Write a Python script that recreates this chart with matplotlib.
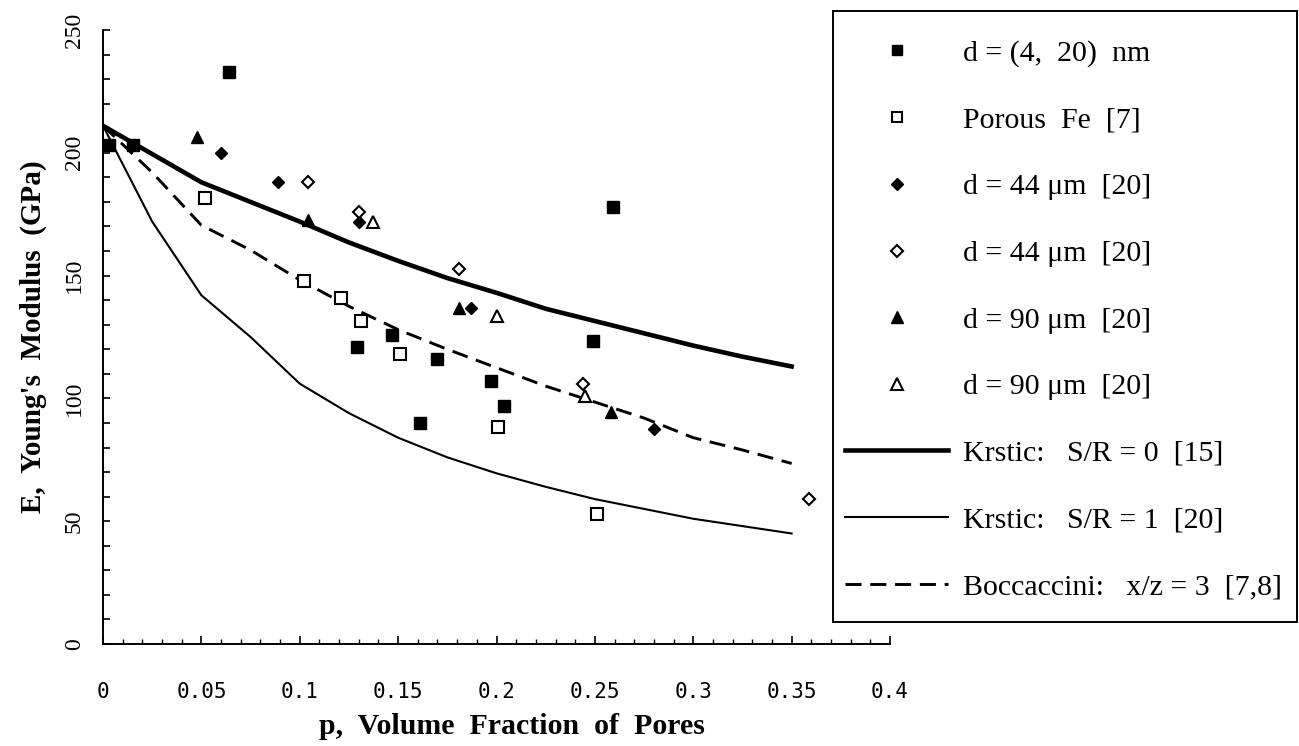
import matplotlib
matplotlib.use("Agg")
import matplotlib.pyplot as plt
from matplotlib.patches import Rectangle
from matplotlib.ticker import FixedLocator, MultipleLocator

plt.rcParams["font.family"] = ["Liberation Serif", "DejaVu Serif"]

# measured points: p (pore fraction), E (GPa)
nano_p = [0.003, 0.015, 0.064, 0.129, 0.147, 0.161, 0.170, 0.197, 0.204, 0.249, 0.259]
nano_E = [203, 203, 233, 121, 126, 90, 116, 107, 97, 123.5, 178]

fe_p = [0.052, 0.102, 0.121, 0.131, 0.151, 0.201, 0.251]
fe_E = [181.5, 148, 141, 131.5, 118, 88.5, 53]

d44_fill_p = [0.060, 0.089, 0.130, 0.187, 0.280]
d44_fill_E = [200, 188, 172, 137, 87.5]

d44_open_p = [0.104, 0.130, 0.181, 0.244, 0.359]
d44_open_E = [188, 176, 152.5, 106, 59]

d90_fill_p = [0.048, 0.104, 0.181, 0.258]
d90_fill_E = [206.5, 172.5, 137, 94.5]

d90_open_p = [0.137, 0.200, 0.245]
d90_open_E = [172, 133.5, 101]

# model curves
curve_p = [0, 0.025, 0.05, 0.075, 0.1, 0.125, 0.15, 0.175, 0.2, 0.225, 0.25, 0.275, 0.3, 0.325, 0.35]
krstic0_E = [211, 199.5, 188, 180, 172, 163.5, 156, 149, 143, 136.5, 131.5, 126.5, 121.5, 117, 113]
krstic1_E = [211, 172, 142, 125, 106, 94, 84, 76, 69.5, 64, 59, 55, 51, 48, 45]
bocc_E = [211, 192, 170.5, 160.4, 148.2, 137.5, 128, 120, 112.5, 105, 98.5, 92, 84, 79, 73.5]

xtick_vals = [0, 0.05, 0.1, 0.15, 0.2, 0.25, 0.3, 0.35, 0.4]
xtick_labels = ["0", "0.05", "0.1", "0.15", "0.2", "0.25", "0.3", "0.35", "0.4"]
ytick_vals = [0, 50, 100, 150, 200, 250]
ytick_labels = ["0", "50", "100", "150", "200", "250"]

W, H = 1299, 746
fig = plt.figure(figsize=(W / 100, H / 100), dpi=100)
ax = fig.add_axes([103 / W, 1 - 644 / H, (890 - 103) / W, (644 - 30) / H])

mk = dict(linestyle="none", color="black", clip_on=False, zorder=5)
h1, = ax.plot(nano_p, nano_E, marker="s", markersize=8.5, label="d = (4,  20)  nm", **mk)
h2, = ax.plot(fe_p, fe_E, marker="s", markersize=8.5, markerfacecolor="white",
              markeredgewidth=1.5, label="Porous  Fe  [7]", **mk)
h3, = ax.plot(d44_fill_p, d44_fill_E, marker="D", markersize=6.5, label="d = 44 μm  [20]", **mk)
h4, = ax.plot(d44_open_p, d44_open_E, marker="D", markersize=6.5, markerfacecolor="white",
              markeredgewidth=1.5, label="d = 44 μm  [20]", **mk)
h5, = ax.plot(d90_fill_p, d90_fill_E, marker="^", markersize=9, label="d = 90 μm  [20]", **mk)
h6, = ax.plot(d90_open_p, d90_open_E, marker="^", markersize=9, markerfacecolor="white",
              markeredgewidth=1.5, label="d = 90 μm  [20]", **mk)

h7, = ax.plot(curve_p, krstic0_E, color="black", linewidth=3.3, label="Krstic:   S/R = 0  [15]")
h8, = ax.plot(curve_p, krstic1_E, color="black", linewidth=1.5, label="Krstic:   S/R = 1  [20]")
h9, = ax.plot(curve_p, bocc_E, color="black", linewidth=2.1, dashes=(5.5, 3),
              label="Boccaccini:   x/z = 3  [7,8]")

ax.set_xlim(0, 0.4)
ax.set_ylim(0, 250)
for s in ("top", "right"):
    ax.spines[s].set_visible(False)
for s in ("left", "bottom"):
    ax.spines[s].set_linewidth(1.4)

ax.xaxis.set_major_locator(FixedLocator(xtick_vals))
ax.set_xticklabels(xtick_labels, family="DejaVu Sans Mono", fontsize=15)
ax.xaxis.set_minor_locator(MultipleLocator(0.01))
ax.yaxis.set_major_locator(FixedLocator(ytick_vals))
ax.set_yticklabels(ytick_labels, fontsize=17, rotation=90, va="center")
ax.yaxis.set_minor_locator(MultipleLocator(10))
ax.tick_params(axis="x", which="major", direction="in", length=6, width=1.2, pad=27)
ax.tick_params(axis="x", which="minor", direction="in", length=3.5, width=1)
ax.tick_params(axis="y", which="both", direction="in", length=5, width=1.2, pad=13)

ax.set_xlabel("p,  Volume  Fraction  of  Pores", fontsize=21.5, fontweight="bold")
ax.xaxis.set_label_coords(0.52, -0.113)
ax.set_ylabel("E,  Young's  Modulus  (GPa)", fontsize=21, fontweight="bold", labelpad=12)

# legend box drawn separately so the frame matches the original
fig.patches.append(Rectangle((833 / W, 1 - 622 / H), (1297 - 833) / W, (622 - 11) / H,
                             transform=fig.transFigure, fill=False, edgecolor="black",
                             linewidth=1.4))
fig.legend(handles=[h1, h2, h3, h4, h5, h6, h7, h8, h9], loc="upper left",
           bbox_to_anchor=(845 / W, 1 - 40 / H), frameon=False, borderpad=0,
           borderaxespad=0, fontsize=21.5, numpoints=1, handlelength=3.45,
           handletextpad=0.5, labelspacing=1.33, markerscale=0.9)

fig.savefig("out.png", dpi=100)
